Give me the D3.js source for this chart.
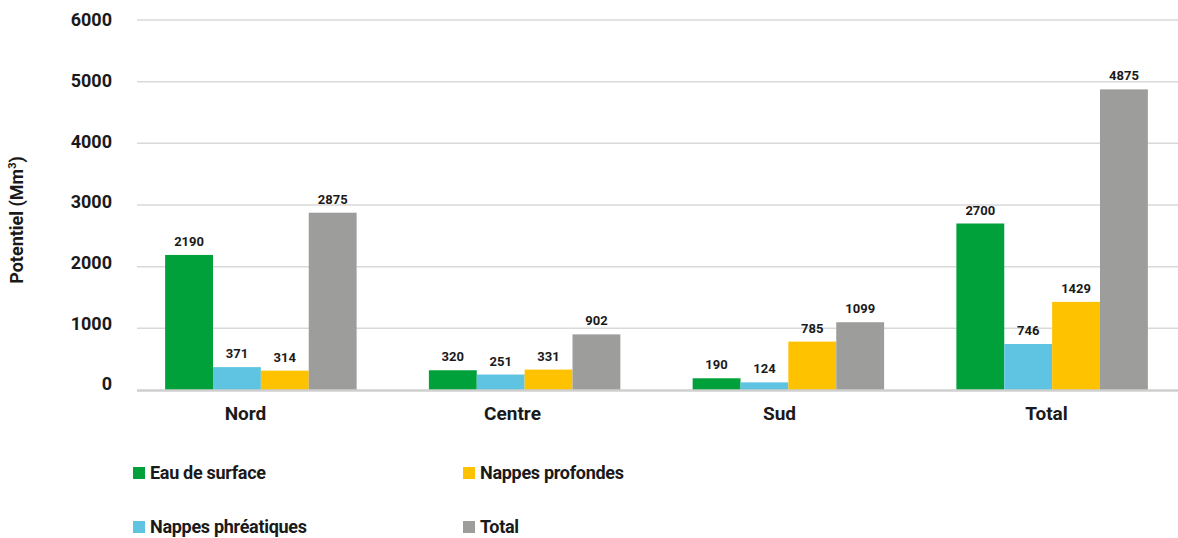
<!DOCTYPE html>
<html>
<head>
<meta charset="utf-8">
<script src="https://cdn.jsdelivr.net/npm/d3@7"></script>
<style>
  html, body { margin: 0; padding: 0; background: #fff; }
  svg { display: block; font-family: Roboto, "Noto Sans", sans-serif; }
</style>
</head>
<body>
<svg id="chart" width="1178" height="538"></svg>
<script>
// Potentiel en eau par région (Mm³)
const categories = ["Nord", "Centre", "Sud", "Total"];
const seriesNames = ["Eau de surface", "Nappes phréatiques", "Nappes profondes", "Total"];
const eauSurface = [2190, 320, 190, 2700];
const nappesPhreatiques = [371, 251, 124, 746];
const nappesProfondes = [314, 331, 785, 1429];
const totalSeries = [2875, 902, 1099, 4875];
const yTicks = [0, 1000, 2000, 3000, 4000, 5000, 6000];
const colors = ["#00A03B", "#5EC4E2", "#FFC200", "#9D9D9C"];

const seriesValues = [eauSurface, nappesPhreatiques, nappesProfondes, totalSeries];

const svg = d3.select("#chart");

// Scales
const x = d3.scaleBand().domain(categories).range([129, 1184]).paddingInner(0.274).paddingOuter(0.137);
const xLabel = d3.scaleBand().domain(categories).range([112, 1180]);
const xInner = d3.scaleBand().domain(d3.range(seriesNames.length)).range([0, x.bandwidth()]);
const y = d3.scaleLinear().domain([0, 6000]).range([390, 20]);
const yLabel = d3.scaleLinear().domain([0, 6000]).range([384, 20]);

// Gridlines
svg.append("g")
  .selectAll("line")
  .data(yTicks.filter(t => t > 0))
  .join("line")
  .attr("x1", 137).attr("x2", 1178)
  .attr("y1", d => y(d)).attr("y2", d => y(d))
  .attr("stroke", "#d9d9d9").attr("stroke-width", 1.5);

// Y tick labels
svg.append("g")
  .selectAll("text")
  .data(yTicks)
  .join("text")
  .attr("x", 112)
  .attr("y", d => yLabel(d))
  .attr("dy", "0.35em")
  .attr("text-anchor", "end")
  .attr("font-size", 18)
  .attr("font-weight", 700)
  .attr("fill", "#1a1a1a")
  .text(d => d);

// Y axis title
const yTitle = svg.append("text")
  .attr("transform", "translate(23,220) rotate(-90)")
  .attr("text-anchor", "middle")
  .attr("font-size", 18)
  .attr("font-weight", 700)
  .attr("fill", "#1a1a1a");
yTitle.append("tspan").text("Potentiel (Mm");
yTitle.append("tspan").attr("font-size", 11).attr("dy", -7).text("3");
yTitle.append("tspan").attr("dy", 7).text(")");

// Bars
const rows = [];
categories.forEach((c, ci) => {
  seriesValues.forEach((vals, si) => {
    rows.push({ cat: c, s: si, v: vals[ci] });
  });
});

svg.append("g")
  .selectAll("rect")
  .data(rows)
  .join("rect")
  .attr("x", d => x(d.cat) + xInner(d.s))
  .attr("y", d => y(d.v))
  .attr("width", xInner.bandwidth())
  .attr("height", d => y(0) - y(d.v))
  .attr("fill", d => colors[d.s]);

// Value labels
svg.append("g")
  .selectAll("text")
  .data(rows)
  .join("text")
  .attr("x", d => x(d.cat) + xInner(d.s) + xInner.bandwidth() / 2)
  .attr("y", d => y(d.v) - 9)
  .attr("text-anchor", "middle")
  .attr("font-size", 13)
  .attr("font-weight", 700)
  .attr("fill", "#1a1a1a")
  .text(d => d.v);

// Baseline
svg.append("line")
  .attr("x1", 137).attr("x2", 1178)
  .attr("y1", y(0) + 0.5).attr("y2", y(0) + 0.5)
  .attr("stroke", "#cfcfcf").attr("stroke-width", 2.5);

// Category labels
svg.append("g")
  .selectAll("text")
  .data(categories)
  .join("text")
  .attr("x", d => xLabel(d) + xLabel.bandwidth() / 2)
  .attr("y", 413)
  .attr("dy", "0.35em")
  .attr("text-anchor", "middle")
  .attr("font-size", 19)
  .attr("font-weight", 700)
  .attr("fill", "#1a1a1a")
  .text(d => d);

// Legend (two columns, two rows)
const legendPos = [
  { x: 133, y: 473 },
  { x: 133, y: 527 },
  { x: 463, y: 473 },
  { x: 463, y: 527 }
];
const legend = svg.append("g")
  .selectAll("g")
  .data(seriesNames)
  .join("g")
  .attr("transform", (d, i) => `translate(${legendPos[i].x},${legendPos[i].y})`);

legend.append("rect")
  .attr("x", 0).attr("y", -6)
  .attr("width", 12).attr("height", 12)
  .attr("fill", (d, i) => colors[i]);

legend.append("text")
  .attr("x", 17)
  .attr("y", 0)
  .attr("dy", "0.35em")
  .attr("font-size", 18)
  .attr("font-weight", 700)
  .attr("letter-spacing", -0.3)
  .attr("fill", "#1a1a1a")
  .text(d => d);
</script>
</body>
</html>
